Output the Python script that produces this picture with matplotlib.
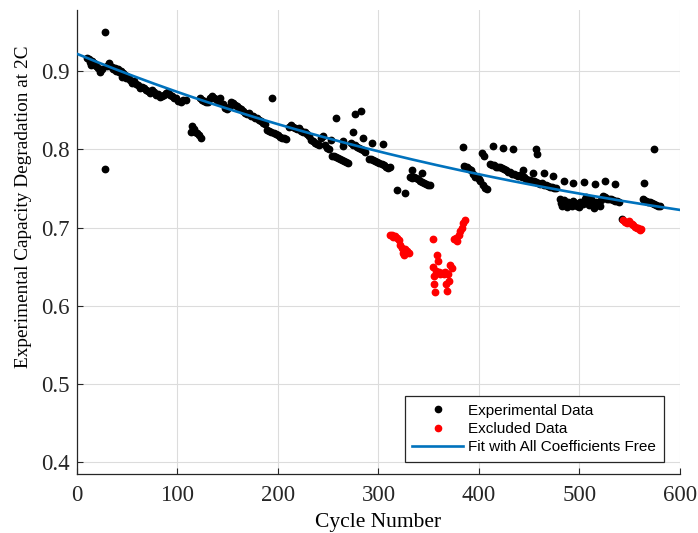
import numpy as np
import matplotlib
matplotlib.use("Agg")
import matplotlib.pyplot as plt
from matplotlib.lines import Line2D

# Measured capacity (cycle, value) kept for the fit
exp_cycles = [
    10, 12, 13, 14, 15, 17, 19, 21, 23, 25, 28, 28, 30, 32, 33, 35, 36, 38, 39, 41,
    42, 44, 45, 46, 48, 49, 51, 53, 55, 57, 59, 61, 63, 65, 67, 69, 71, 73, 75, 77,
    79, 81, 83, 85, 87, 89, 91, 93, 95, 97, 99, 101, 103, 105, 108,
    113, 114, 116, 117, 119, 121, 123,
    122, 124, 126, 128, 130, 132, 134, 136, 138, 140, 142, 145, 147, 149, 151, 153,
    155, 157, 159, 161, 163, 165, 167, 169, 171, 173, 175, 177, 179, 181, 183, 185,
    187, 189, 191, 193, 194, 196, 198, 200, 202, 204, 206, 208,
    211, 213, 215, 217, 219, 221, 223, 225, 227, 229, 231, 233, 235, 237, 239, 241,
    243, 245, 247, 249, 251, 253,
    254, 256, 258, 260, 262, 264, 266, 268, 270,
    258, 265, 265, 275, 277, 283, 285, 294, 304,
    273, 275, 277, 279, 281, 283, 285, 287,
    291, 293, 295, 297, 299, 301, 303, 305, 307, 309, 311,
    318, 326,
    333, 331, 333, 335, 337, 339, 341, 343, 345, 343, 347, 349, 351,
    384, 385, 386, 388, 390, 392, 394, 396, 398, 400, 401, 403, 405, 404, 406, 408,
    411, 413, 415, 417, 419, 421, 423, 425, 427, 429, 431, 433, 435, 437, 439, 441,
    443, 445, 447, 449, 451, 453, 455, 457, 459, 461, 463, 465, 467, 469, 471, 473,
    475, 477,
    414, 424, 434, 444, 454, 457, 458, 465, 474, 485, 494, 504, 515, 525, 535, 564,
    574,
    481, 482, 483, 485, 486, 488, 489, 491, 493, 494, 496, 498, 500, 501, 503, 505,
    506, 508, 509, 511, 512, 514, 516, 518, 520, 521,
    523, 525, 527, 529, 531, 533, 535, 537, 539,
    542,
    563, 564, 566, 568, 570, 572, 574, 576, 578, 580,
]
exp_capacity = [
    0.917, 0.915, 0.912, 0.908, 0.913, 0.910, 0.906, 0.904, 0.899, 0.903, 0.950, 0.775,
    0.907, 0.910, 0.906, 0.905, 0.902, 0.904, 0.900, 0.903,
    0.899, 0.900, 0.893, 0.897, 0.895, 0.891, 0.893, 0.888, 0.885, 0.887, 0.884, 0.882,
    0.878, 0.880, 0.878, 0.876, 0.874, 0.872, 0.876, 0.873,
    0.870, 0.871, 0.867, 0.868, 0.870, 0.872, 0.873, 0.870, 0.868, 0.866, 0.865, 0.862,
    0.861, 0.863, 0.863,
    0.822, 0.830, 0.826, 0.822, 0.821, 0.818, 0.814,
    0.865, 0.863, 0.862, 0.860, 0.861, 0.866, 0.868, 0.866, 0.864, 0.862, 0.866, 0.858,
    0.853, 0.851, 0.854, 0.861,
    0.859, 0.857, 0.855, 0.853, 0.851, 0.849, 0.847, 0.845, 0.846, 0.843, 0.842, 0.840,
    0.840, 0.838, 0.836, 0.834,
    0.832, 0.825, 0.823, 0.822, 0.866, 0.821, 0.820, 0.818, 0.816, 0.815, 0.814, 0.813,
    0.829, 0.831, 0.829, 0.827, 0.826, 0.827, 0.824, 0.822, 0.822, 0.820, 0.817, 0.812,
    0.810, 0.808, 0.807, 0.805,
    0.815, 0.817, 0.806, 0.802, 0.800, 0.812,
    0.792, 0.791, 0.790, 0.789, 0.787, 0.786, 0.785, 0.784, 0.783,
    0.840, 0.810, 0.804, 0.822, 0.845, 0.849, 0.815, 0.808, 0.807,
    0.808, 0.806, 0.805, 0.803, 0.802, 0.800, 0.799, 0.797,
    0.788, 0.787, 0.786, 0.785, 0.784, 0.783, 0.781, 0.780, 0.778, 0.776, 0.778,
    0.748, 0.744,
    0.773, 0.765, 0.763, 0.764, 0.763, 0.762, 0.760, 0.758, 0.757, 0.770, 0.756, 0.755,
    0.754,
    0.803, 0.779, 0.777, 0.778, 0.775, 0.773, 0.769, 0.765, 0.764, 0.762, 0.760, 0.795,
    0.792, 0.754, 0.750, 0.749,
    0.781, 0.780, 0.780, 0.778, 0.777, 0.777, 0.776, 0.775, 0.773, 0.771, 0.771, 0.769,
    0.768, 0.767, 0.766, 0.767,
    0.764, 0.764, 0.762, 0.761, 0.761, 0.760, 0.759, 0.758, 0.757, 0.756, 0.757, 0.755,
    0.754, 0.753, 0.752, 0.752,
    0.751, 0.750,
    0.804, 0.802, 0.801, 0.774, 0.770, 0.801, 0.794, 0.770, 0.766, 0.759, 0.757, 0.758,
    0.756, 0.759, 0.756, 0.757,
    0.800,
    0.736, 0.731, 0.728, 0.735, 0.730, 0.726, 0.733, 0.729, 0.727, 0.734, 0.731, 0.728,
    0.726, 0.733, 0.730, 0.737,
    0.739, 0.733, 0.729, 0.736, 0.731, 0.725, 0.733, 0.730, 0.728, 0.735,
    0.740, 0.739, 0.737, 0.737, 0.736, 0.735, 0.734, 0.734, 0.733,
    0.711,
    0.737, 0.735, 0.734, 0.733, 0.732, 0.731, 0.730, 0.729, 0.728, 0.727,
]

# Points left out of the fit
excl_cycles = [
    311, 313, 314, 316, 318, 320, 321, 323, 324, 325, 326, 328, 330,
    354, 354, 355, 355, 356, 357, 358, 359, 360, 361, 363, 365, 366, 367, 368, 369,
    370, 371, 373, 375, 377, 378, 380, 381, 383, 384, 386,
    543, 545, 547, 549, 550, 552, 553, 555, 557, 558, 560, 561,
]
excl_capacity = [
    0.690, 0.691, 0.688, 0.689, 0.686, 0.684, 0.678, 0.674, 0.668, 0.665, 0.672, 0.670,
    0.668,
    0.685, 0.650, 0.638, 0.628, 0.617, 0.645, 0.665, 0.657, 0.643, 0.641, 0.642, 0.640,
    0.643, 0.628, 0.619, 0.641,
    0.632, 0.652, 0.648, 0.685, 0.687, 0.683, 0.690, 0.695, 0.700, 0.706, 0.709,
    0.709, 0.707, 0.706, 0.708, 0.706, 0.705, 0.703, 0.701, 0.700, 0.699, 0.697, 0.698,
]

# Exponential-decay fit: y = c + a * exp(-k * n)
fit_c, fit_a, fit_k = 0.61, 0.312, 0.0017

x_ticks = [0, 100, 200, 300, 400, 500, 600]
y_ticks = [0.4, 0.5, 0.6, 0.7, 0.8, 0.9]

fig = plt.figure(figsize=(6.98, 5.33), dpi=100)
ax = fig.add_axes([0.1103, 0.1107, 0.8639, 0.8705])

ax.plot(exp_cycles, exp_capacity, linestyle="none", marker="o", markersize=4.6,
        color="black", zorder=3)
ax.plot(excl_cycles, excl_capacity, linestyle="none", marker="o", markersize=4.6,
        color="red", zorder=3)

n = np.linspace(0, 600, 400)
ax.plot(n, fit_c + fit_a * np.exp(-fit_k * n), color=(0.0, 0.447, 0.741),
        linewidth=1.9, zorder=4)

ax.set_xlim(0, 600)
ax.set_ylim(0.385, 0.978)
ax.set_xticks(x_ticks)
ax.set_yticks(y_ticks)
ax.set_xticklabels([str(t) for t in x_ticks])
ax.set_yticklabels([f"{t:.1f}" for t in y_ticks])

serif = "Liberation Serif"
for lbl in ax.get_xticklabels() + ax.get_yticklabels():
    lbl.set_fontfamily(serif)
    lbl.set_fontsize(16.5)
ax.tick_params(direction="in", length=4, width=0.8, colors="#262626")
ax.tick_params(axis="x", pad=8)
ax.tick_params(axis="y", pad=5)

ax.grid(True, color="#dcdcdc", linewidth=0.8)
ax.set_axisbelow(True)
for side in ("top", "right"):
    ax.spines[side].set_visible(False)
for side in ("left", "bottom"):
    ax.spines[side].set_color("#262626")
    ax.spines[side].set_linewidth(0.9)

ax.set_xlabel("Cycle Number", fontfamily=serif, fontsize=15.5, labelpad=5)
ax.set_ylabel("Experimental Capacity Degradation at 2C", fontfamily=serif,
              fontsize=13.9)
ax.yaxis.set_label_coords(-0.075, 0.576)

handles = [
    Line2D([], [], linestyle="none", marker="o", markersize=4.5, color="black"),
    Line2D([], [], linestyle="none", marker="o", markersize=4.5, color="red"),
    Line2D([], [], color=(0.0, 0.447, 0.741), linewidth=1.9),
]
labels = ["Experimental Data", "Excluded Data", "Fit with All Coefficients Free"]
leg = ax.legend(handles, labels, loc="lower right", bbox_to_anchor=(0.973, 0.026),
                borderaxespad=0, fancybox=False, framealpha=1, edgecolor="#262626",
                prop={"family": "Liberation Sans", "size": 11},
                handlelength=3.3, handletextpad=0.35, labelspacing=0.28,
                borderpad=0.5)
leg.get_frame().set_linewidth(0.9)

fig.savefig("out.png", dpi=100)
